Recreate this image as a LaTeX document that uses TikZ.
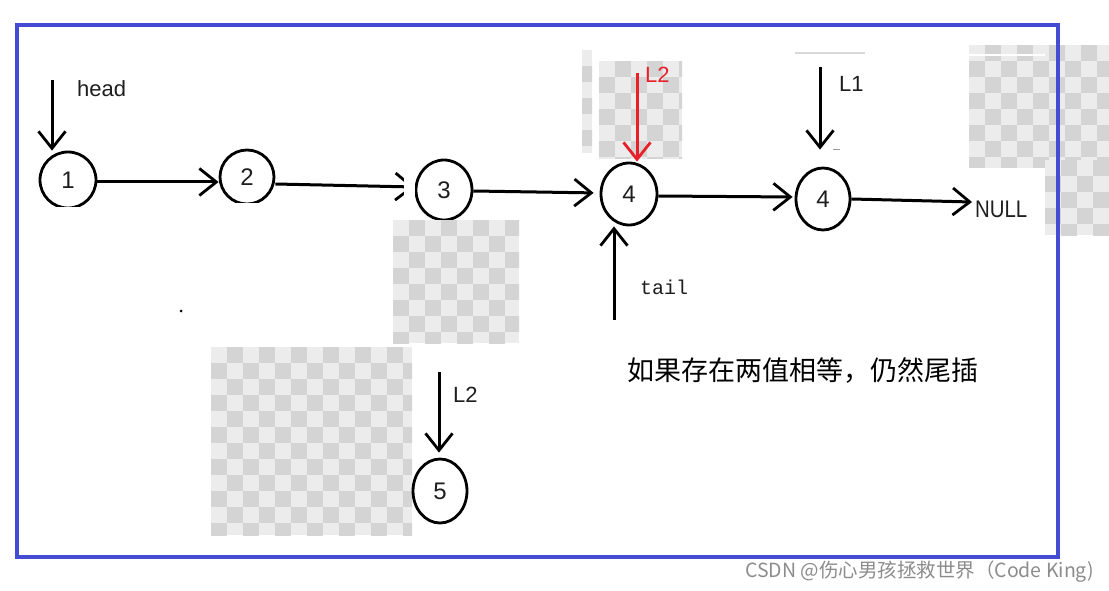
\documentclass[tikz,border=0pt]{standalone}
\usepackage{fontspec}
\setmainfont{Liberation Sans}
\newfontfamily\cjk{Noto Sans CJK SC}
\newfontfamily\monof{Liberation Mono}
\usetikzlibrary{arrows.meta,shapes.geometric}
\definecolor{framec}{RGB}{68,76,212}
\definecolor{chkA}{RGB}{236,236,236}
\definecolor{chkB}{RGB}{212,212,212}
\definecolor{redc}{RGB}{232,32,42}
\definecolor{inkc}{RGB}{30,30,30}
\newcommand\chkbd[5]{%
  \begin{scope}
    \clip (#1,#2) rectangle (#3,#4);
    \fill[chkA] (#1,#2) rectangle (#3,#4);
    \pgfmathtruncatemacro\chknx{ceil((#3-#1)/#5)}
    \pgfmathtruncatemacro\chkny{ceil((#4-#2)/#5)}
    \foreach \i in {0,...,\chknx}{\foreach \j in {0,...,\chkny}{
      \pgfmathtruncatemacro\chkp{mod(\i+\j,2)}
      \ifnum\chkp=1 \fill[chkB] ({#1+\i*#5},{#2+\j*#5}) rectangle ++(#5,#5);\fi
    }}
  \end{scope}}
\tikzset{
  circ/.style={draw, ellipse, line width=2.8pt, inner sep=0pt, text=inkc,
    font=\fontsize{24}{24}\selectfont},
  arr/.style={line width=3pt, -{Straight Barb[length=17pt,width=27pt,line width=2.8pt]}},
  lbl/.style={inner sep=0pt, text=inkc, font=\fontsize{22}{22}\selectfont}
}
\begin{document}
\begin{tikzpicture}[x=1pt,y=-1pt]
\useasboundingbox[fill=white] (0,0) rectangle (1109,591);
% transparency checkers
\chkbd{969}{45}{1109}{168}{16}
\chkbd{1045}{160}{1109}{235}{16}
\draw[white, line width=1.2pt] (969,55) -- (1045,55);
\chkbd{582}{50}{592}{153}{16}
\chkbd{599}{61}{682}{159}{16}
\chkbd{211}{347}{412}{535}{16}
\draw[black!15, line width=1.5pt] (795,53) -- (865,53);
% frame
\draw[framec, line width=3.3pt] (17,25) rectangle (1058,557);
% nodes
\node[circ, minimum width=56pt, minimum height=56pt] (n1) at (68,180) {1};
\node[circ, minimum width=54pt, minimum height=54pt] (n2) at (247,177) {2};
\node[circ, minimum width=56pt, minimum height=60pt] (n3) at (444,190) {3};
\node[circ, minimum width=56pt, minimum height=62pt] (n4) at (629,194) {4};
\node[circ, minimum width=54pt, minimum height=62pt] (n5) at (823,199) {4};
\node[circ, minimum width=54pt, minimum height=64pt] (n6) at (440,491) {5};
\node[lbl, font=\fontsize{24}{24}\selectfont, xscale=0.85, anchor=west] (nul) at (975,209) {NULL};
% connectors
\draw[arr] ([yshift=-2pt]n1.east) -- ([yshift=-5pt]n2.west);
\draw[arr] ([yshift=-7pt]n2.east) -- ([yshift=3pt]n3.west);
\draw[arr, shorten >=6pt] ([yshift=-1pt]n3.east) -- ([yshift=1pt]n4.west);
\draw[arr, shorten >=2pt] ([yshift=-2pt]n4.east) -- ([yshift=2pt]n5.west);
\draw[arr] (n5.east) -- ([xshift=-3pt,yshift=7pt]nul.west);
% pointers
\coordinate (hs) at (52,80);
\draw[arr] (hs) -- (hs |- n1.north);
\node[lbl, anchor=west] (hl) at (77,89) {head};
\coordinate (r2) at (637,73);
\draw[arr, redc] (r2) -- (r2 |- n4.north);
\node[lbl, text=redc, font=\fontsize{22}{22}\selectfont, anchor=west] (l2r) at (645,75) {L2};
\coordinate (ts) at (614,320);
\draw[arr] (ts) -- (ts |- n4.south);
\node[lbl, font=\monof\fontsize{20}{20}\selectfont, anchor=west] (tl) at (640,287) {tail};
\coordinate (l1s) at (820,67);
\draw[arr, shorten >=17pt] (l1s) -- (l1s |- n5.north);
\node[lbl, anchor=west] (l1) at (839,84) {L1};
\draw[black!40, line width=1pt] (833,150) -- (840,150);
\coordinate (l2s) at (439,372);
\draw[arr, shorten >=5pt] (l2s) -- (l2s |- n6.north);
\node[lbl, anchor=west] (l2b) at (453,395) {L2};
\fill[black] (181,311) circle (1.5pt);
% cut-outs
\fill[white] (30,207) rectangle (105,218);
\fill[white] (212,203) rectangle (282,218);
\fill[white] (404,160) rectangle (415,214);
\chkbd{393}{220}{519}{343}{16}
% texts
\node[inner sep=0pt, anchor=west, text=black, font=\cjk\fontsize{27}{27}\selectfont] (note) at (627,370) {如果存在两值相等，仍然尾插};
\node[inner sep=0pt, anchor=west, text=black!45, font=\cjk\fontsize{19.5}{19.5}\selectfont] (wm) at (745,572) {CSDN @伤心男孩拯救世界（Code King)};
\end{tikzpicture}
\end{document}
